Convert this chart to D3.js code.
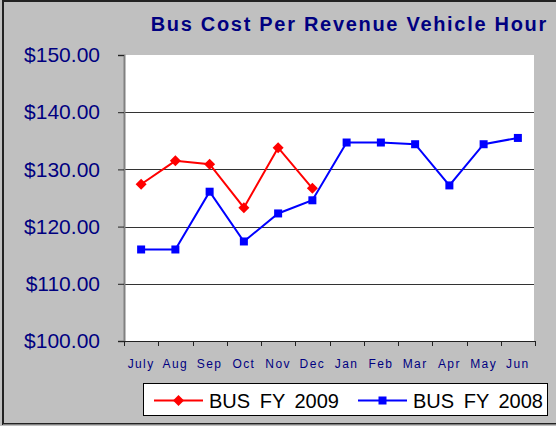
<!DOCTYPE html>
<html>
<head>
<meta charset="utf-8">
<script src="https://cdn.jsdelivr.net/npm/d3@7"></script>
<style>
  body { margin: 0; background: #c0c0c0; }
  text { font-family: "Liberation Sans", Arial, sans-serif; }
</style>
</head>
<body>
<script>
// data
let months = ["July","Aug","Sep","Oct","Nov","Dec","Jan","Feb","Mar","Apr","May","Jun"];
let fy2009 = [127.4, 131.5, 130.9, 123.3, 133.8, 126.7];
let fy2008 = [116.0, 116.0, 126.1, 117.4, 122.3, 124.6, 134.7, 134.7, 134.4, 127.2, 134.4, 135.5];
let yTicks = [100, 110, 120, 130, 140, 150];

let W = 556, H = 426;
let plot = {left: 124, top: 55, right: 535, bottom: 341};

let svg = d3.select("body").append("svg")
    .attr("width", W)
    .attr("height", H);

// outer frame
svg.append("rect")
    .attr("x", 0).attr("y", 0).attr("width", W).attr("height", H)
    .attr("fill", "#c0c0c0");
svg.append("rect")
    .attr("x", 3).attr("y", 1).attr("width", W + 10).attr("height", 423)
    .attr("fill", "#c0c0c0")
    .attr("stroke", "#222")
    .attr("stroke-width", 2);
svg.append("line")
    .attr("x1", 3).attr("x2", W).attr("y1", 424.5).attr("y2", 424.5)
    .attr("stroke", "#808080");

// scales
let x = d3.scaleBand()
    .domain(months)
    .range([plot.left, plot.right])
    .padding(0);
let y = d3.scaleLinear()
    .domain([100, 150])
    .range([plot.bottom, plot.top]);
let cx = function(d) { return x(d) + x.bandwidth() / 2; };

// plot background
svg.append("rect")
    .attr("x", plot.left).attr("y", plot.top)
    .attr("width", plot.right - plot.left - 1)
    .attr("height", plot.bottom - plot.top)
    .attr("fill", "white");

// title
svg.append("text")
    .attr("x", 548).attr("y", 31)
    .attr("text-anchor", "end")
    .attr("fill", "#000080")
    .attr("font-size", 20)
    .attr("font-weight", "bold")
    .attr("letter-spacing", 1.7)
    .text("Bus Cost Per Revenue Vehicle Hour");

// gridlines
svg.append("g")
    .selectAll("line")
    .data(yTicks.filter(function(d) { return d < 150; }))
    .join("line")
    .attr("x1", plot.left).attr("x2", plot.right - 1)
    .attr("y1", function(d) { return Math.round(y(d)) + 0.5; })
    .attr("y2", function(d) { return Math.round(y(d)) + 0.5; })
    .attr("stroke", "#333")
    .attr("stroke-width", 1);

// y axis
let yAxis = svg.append("g")
    .attr("transform", "translate(" + plot.left + ",0)")
    .call(d3.axisLeft(y)
        .tickValues(yTicks)
        .tickSize(6)
        .tickPadding(18)
        .tickFormat(function(d) { return "$" + d3.format(".2f")(d); }));
yAxis.select(".domain").attr("stroke", "#808080").attr("stroke-width", 2);
yAxis.selectAll(".tick line").attr("stroke", "#222");
yAxis.selectAll("text")
    .attr("font-size", 21)
    .attr("fill", "#000080")
    .attr("font-family", "Liberation Sans, Arial, sans-serif");

// x axis: ticks at category boundaries
let xAxis = svg.append("g");
xAxis.append("line")
    .attr("x1", plot.left).attr("x2", plot.right)
    .attr("y1", plot.bottom + 0.5).attr("y2", plot.bottom + 0.5)
    .attr("stroke", "#222");
xAxis.selectAll(".xt")
    .data(months.concat(["_end"]))
    .join("line")
    .attr("class", "xt")
    .attr("x1", function(d, i) { return Math.round(i < months.length ? x(d) : plot.right) + 0.5; })
    .attr("x2", function(d, i) { return Math.round(i < months.length ? x(d) : plot.right) + 0.5; })
    .attr("y1", plot.bottom).attr("y2", plot.bottom + 5)
    .attr("stroke", "#222");
xAxis.selectAll(".xl")
    .data(months)
    .join("text")
    .attr("class", "xl")
    .attr("x", cx)
    .attr("y", 368)
    .attr("text-anchor", "middle")
    .attr("font-size", 12)
    .attr("letter-spacing", 1.4)
    .attr("fill", "#000080")
    .text(function(d) { return d; });

let line = d3.line()
    .x(function(d, i) { return cx(months[i]); })
    .y(function(d) { return y(d); });

let diamond = "M0,-5.5L5.5,0L0,5.5L-5.5,0Z";

// FY 2008 series
svg.append("path")
    .datum(fy2008)
    .attr("fill", "none")
    .attr("stroke", "#0000ff")
    .attr("stroke-width", 2)
    .attr("d", line);
svg.selectAll(".sq")
    .data(fy2008)
    .join("rect")
    .attr("class", "sq")
    .attr("x", function(d, i) { return cx(months[i]) - 4; })
    .attr("y", function(d) { return y(d) - 4; })
    .attr("width", 8).attr("height", 8)
    .attr("fill", "#0000ff");

// FY 2009 series
svg.append("path")
    .datum(fy2009)
    .attr("fill", "none")
    .attr("stroke", "#ff0000")
    .attr("stroke-width", 2)
    .attr("d", line);
svg.selectAll(".dm")
    .data(fy2009)
    .join("path")
    .attr("class", "dm")
    .attr("transform", function(d, i) { return "translate(" + cx(months[i]) + "," + y(d) + ")"; })
    .attr("d", diamond)
    .attr("fill", "#ff0000");

// legend
let legend = svg.append("g");
legend.append("rect")
    .attr("x", 143.5).attr("y", 383.5).attr("width", 404).attr("height", 32)
    .attr("fill", "white")
    .attr("stroke", "black");
let items = [
    {name: "BUS FY 2009", color: "#ff0000", x0: 154, shape: "diamond"},
    {name: "BUS FY 2008", color: "#0000ff", x0: 358, shape: "square"}
];
items.forEach(function(it) {
    legend.append("line")
        .attr("x1", it.x0).attr("x2", it.x0 + 49)
        .attr("y1", 400.5).attr("y2", 400.5)
        .attr("stroke", it.color).attr("stroke-width", 2);
    if (it.shape === "diamond") {
        legend.append("path")
            .attr("transform", "translate(" + (it.x0 + 24.5) + ",400.5)")
            .attr("d", diamond)
            .attr("fill", it.color);
    } else {
        legend.append("rect")
            .attr("x", it.x0 + 20.5).attr("y", 396.5)
            .attr("width", 8).attr("height", 8)
            .attr("fill", it.color);
    }
    legend.append("text")
        .attr("x", it.x0 + 55).attr("y", 408)
        .attr("font-size", 20)
        .attr("word-spacing", 4)
        .attr("fill", "black")
        .text(it.name);
});
</script>
</body>
</html>
